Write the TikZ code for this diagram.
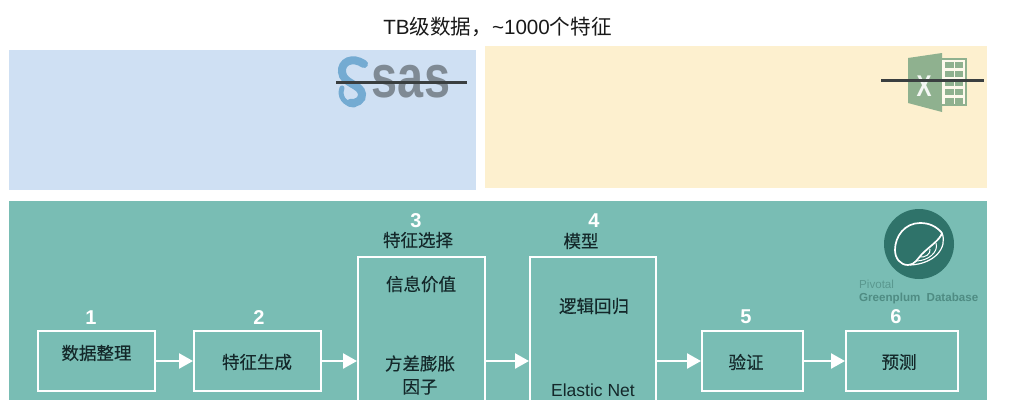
\documentclass[tikz,border=0pt]{standalone}
\usepackage{fontspec}
\setmainfont{Liberation Sans}
\newfontfamily\cjk{Noto Sans CJK SC}
\newfontfamily\cjkheavy[FakeBold=0.25]{Noto Sans CJK SC}
\usetikzlibrary{arrows.meta}
\definecolor{tealbg}{HTML}{79BDB4}
\definecolor{bluebg}{HTML}{CFE0F3}
\definecolor{yellowbg}{HTML}{FDF0CF}
\definecolor{inktext}{HTML}{14282A}
\definecolor{strike}{HTML}{3A3F40}
\definecolor{sasgray}{HTML}{7F8A94}
\definecolor{sasblue}{HTML}{74ABD2}
\definecolor{xlgreen}{HTML}{8FB18F}
\definecolor{gpdark}{HTML}{2F736A}
\definecolor{gptext}{HTML}{4F8C83}
\tikzset{
  stepbox/.style={draw=white,line width=2.4pt,minimum width=#1,outer sep=0pt,inner sep=0pt},
  smallbox/.style={stepbox=#1,minimum height=60pt},
  tallbox/.style={stepbox=#1,minimum height=208pt},
  flow/.style={draw=white,line width=2.4pt,-{Triangle[length=14pt,width=15pt,fill=white]},shorten >=1pt},
  label/.style={font=\cjkheavy\fontsize{17.5pt}{20pt}\selectfont,text=inktext,align=center,inner sep=0pt},
  num/.style={font=\bfseries\fontsize{20pt}{22pt}\selectfont,text=white,inner sep=0pt},
  strikeline/.style={draw=strike,line width=3pt}
}
\begin{document}
\begin{tikzpicture}[x=1pt,y=-1pt]
\useasboundingbox (0,0) rectangle (1009,400);
\clip (0,0) rectangle (1009,400);
\fill[white] (0,0) rectangle (1009,400);
% bands
\fill[bluebg] (9,50) rectangle (476,190);
\fill[yellowbg] (485,46) rectangle (987,188);
\fill[tealbg] (9,201) rectangle (987,400);
% title
\node[inner sep=0pt,text=black!90,font=\fontsize{20.6pt}{22pt}\selectfont] (title) at (497.5,27) {TB{\cjk 级数据，}\textasciitilde 1000{\cjk 个特征}};
% SAS logo
\draw[sasblue,line width=8pt,line cap=round] (364,64) .. controls (352,56) and (341,62) .. (342,72) .. controls (343,84) and (361,84) .. (362,94) .. controls (363,100) and (356,104) .. (350,103);
\draw[sasblue,line width=5pt,line cap=round] (342,88) .. controls (339,96) and (344,104) .. (354,105);
\node[anchor=base,inner sep=0pt,text=sasgray,xscale=.78,font=\bfseries\fontsize{60pt}{60pt}\selectfont] (sastext) at (411,97) {sas};
\coordinate (sasL) at (336,82);
\coordinate (sasR) at (467,82);
\draw[strikeline] (sasL) -- (sasR);
% Excel logo
\fill[xlgreen] (908,58) -- (942,53) -- (942,112) -- (908,103) -- cycle;
\fill[white!60!yellowbg] (942,58) rectangle (966,105);
\draw[xlgreen,line width=1.8pt] (942,59) -- (966,59) -- (966,105) -- (942,105);
\foreach \yy in {62,71,80,89,98}{\fill[xlgreen] (945,\yy) rectangle (963,\yy+5.5);}
\draw[white!60!yellowbg,line width=1.2pt] (954.5,60) -- (954.5,104);
\node[inner sep=0pt,text=white!90!xlgreen,xscale=.75,font=\bfseries\fontsize{30pt}{30pt}\selectfont] (xl) at (924,86) {X};
\coordinate (xlL) at (881,80);
\coordinate (xlR) at (984,80);
\draw[strikeline] (xlL) -- (xlR);
% Greenplum logo
\fill[gpdark] (919,244) circle (35);
\draw[white,line width=1.7pt,line join=round] (942,233) .. controls (936,226) and (929,223) .. (920,223) .. controls (905,223) and (895,236) .. (895,250) .. controls (895,258) and (900,265) .. (908,265) .. controls (915,265) and (918,258) .. (922,254) .. controls (930,246) and (940,240) .. (942,233) -- cycle;
\draw[white,line width=1.2pt] (942,233) .. controls (948,248) and (934,264) .. (910,265);
\draw[white,line width=1pt] (936,243) .. controls (939,252) and (928,261) .. (916,261);
\draw[white,line width=1pt] (930,249) .. controls (931,254) and (925,258) .. (919,257);
\node[anchor=west,inner sep=0pt,text=gptext!75!tealbg,font=\fontsize{11.6pt}{12pt}\selectfont] (pivotal) at (859,284) {Pivotal};
\node[anchor=west,inner sep=0pt,text=gptext,font=\bfseries\fontsize{11.6pt}{12pt}\selectfont] (gp) at (859,298) {Greenplum\hspace{3pt} Database};
% process boxes
\node[smallbox=117pt] (b1) at (96.5,361) {};
\node[smallbox=127pt] (b2) at (257.5,361) {};
\node[tallbox=127pt] (b3) at (421.5,361) {};
\node[tallbox=126pt] (b4) at (593,361) {};
\node[smallbox=101pt] (b5) at (752.5,361) {};
\node[smallbox=112pt] (b6) at (902,361) {};
% connectors
\draw[flow] (b1) -- (b2);
\draw[flow] (b2) -- (b3);
\draw[flow] (b3) -- (b4);
\draw[flow] (b4) -- (b5);
\draw[flow] (b5) -- (b6);
% numbers
\node[num] (n1) at (91,318) {1};
\node[num] (n2) at (259,318) {2};
\node[num] (n3) at (416,221) {3};
\node[num] (n4) at (594,221) {4};
\node[num] (n5) at (746,317) {5};
\node[num] (n6) at (896,317) {6};
% labels
\node[label] (t1) at (96.5,353) {数据整理};
\node[label] (t2) at (257,362) {特征生成};
\node[label] (t3h) at (418,240) {特征选择};
\node[label] (t3a) at (421,284) {信息价值};
\node[label] (t3b) at (420,375) {方差膨胀\\[3pt]因子};
\node[label] (t4h) at (581,241) {模型};
\node[label] (t4a) at (594,306) {逻辑回归};
\node[label,anchor=center,font=\fontsize{17.5pt}{17.5pt}\selectfont] (t4b) at (593,390.5) {Elastic Net};
\node[label] (t5) at (746,362) {验证};
\node[label] (t6) at (899,362) {预测};
\end{tikzpicture}
\end{document}
